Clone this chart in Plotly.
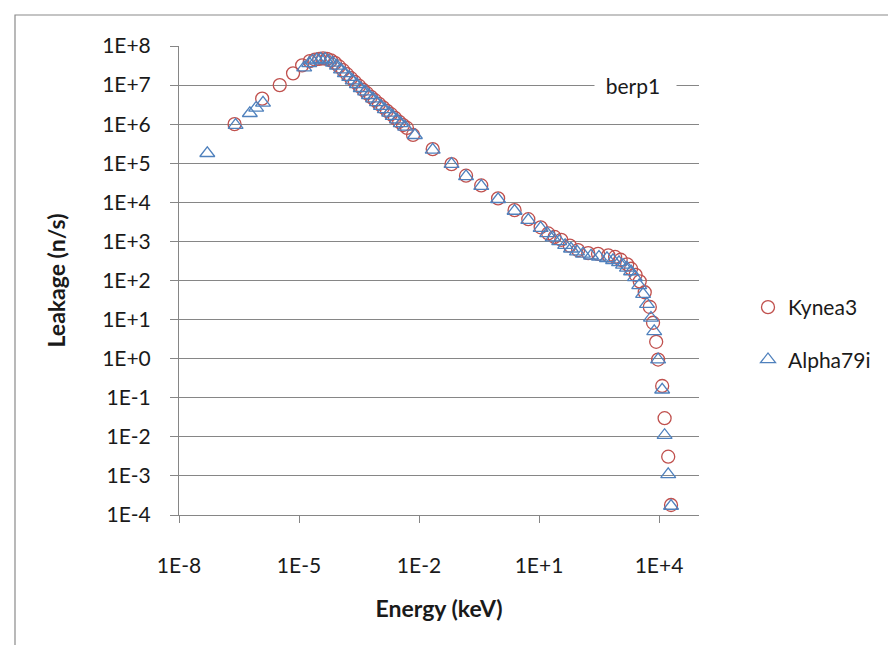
import plotly.graph_objects as go

# ---- data ----
kynea3_energy = [2.45e-7, 1.2e-6, 3.3e-6, 7.1e-6, 1.2e-5, 1.86e-5, 2.5e-5, 3.2e-5, 4.0e-5, 5.0e-5,
                 6.3e-5, 7.9e-5, 1.0e-4, 1.26e-4, 1.58e-4, 2.0e-4, 2.5e-4, 3.2e-4, 4.0e-4, 5.0e-4,
                 6.3e-4, 7.9e-4, 1.0e-3, 1.26e-3, 1.58e-3, 2.0e-3, 2.5e-3, 3.2e-3, 4.0e-3, 5.0e-3,
                 7.1e-3, 2.2e-2, 6.5e-2, 0.15, 0.36, 0.95, 2.45, 5.4, 11, 17,
                 24.5, 36, 59, 95, 170, 300, 540, 800, 1.1e3, 1.6e3,
                 2.0e3, 2.6e3, 3.3e3, 4.4e3, 5.9e3, 7.1e3, 8.5e3, 9.5e3, 1.2e4, 1.38e4,
                 1.7e4, 2.0e4]
kynea3_leak = [1.0e6, 4.5e6, 1.0e7, 2.0e7, 3.2e7, 4.1e7, 4.5e7, 4.7e7, 4.8e7, 4.7e7,
               4.3e7, 3.7e7, 3.0e7, 2.4e7, 1.9e7, 1.5e7, 1.2e7, 9.5e6, 7.6e6, 6.2e6,
               5.0e6, 4.1e6, 3.3e6, 2.7e6, 2.2e6, 1.8e6, 1.45e6, 1.15e6, 9.5e5, 8.0e5,
               5.3e5, 2.3e5, 9.5e4, 4.8e4, 2.7e4, 1.26e4, 6.3e3, 3.7e3, 2.3e3, 1.6e3,
               1.3e3, 1.1e3, 7.8e2, 6.0e2, 5.0e2, 4.8e2, 4.4e2, 4.0e2, 3.4e2, 2.6e2,
               2.0e2, 1.4e2, 9.5e1, 5.0e1, 2.1e1, 8.3, 2.7, 0.95, 0.2, 0.03,
               3.1e-3, 1.8e-4]

alpha79i_energy = [5.1e-8, 2.6e-7, 5.9e-7, 8.5e-7, 1.26e-6, 1.35e-5, 1.8e-5, 2.2e-5, 2.8e-5, 3.5e-5,
                   4.5e-5, 5.6e-5, 7.1e-5, 8.9e-5, 1.12e-4, 1.4e-4, 1.8e-4, 2.2e-4, 2.8e-4, 3.5e-4,
                   4.5e-4, 5.6e-4, 7.1e-4, 8.9e-4, 1.12e-3, 1.4e-3, 1.8e-3, 2.2e-3, 2.8e-3, 3.5e-3,
                   4.5e-3, 7.9e-3, 2.2e-2, 6.5e-2, 0.15, 0.36, 0.95, 2.45, 5.4, 11,
                   16, 22, 32, 45, 63, 89, 126, 200, 316, 500,
                   710, 1.0e3, 1.26e3, 1.58e3, 2.0e3, 2.5e3, 3.2e3, 4.0e3, 5.0e3, 6.3e3,
                   7.6e3, 9.5e3, 1.2e4, 1.38e4, 1.7e4, 2.0e4]
alpha79i_leak = [1.8e5, 9.5e5, 1.9e6, 2.6e6, 3.5e6, 2.8e7, 3.6e7, 4.2e7, 4.5e7, 4.6e7,
                 4.6e7, 4.2e7, 3.7e7, 3.1e7, 2.5e7, 2.0e7, 1.6e7, 1.3e7, 1.05e7, 8.3e6,
                 6.8e6, 5.5e6, 4.5e6, 3.6e6, 2.9e6, 2.4e6, 1.95e6, 1.6e6, 1.3e6, 1.05e6,
                 8.5e5, 5.2e5, 2.2e5, 9.5e4, 4.6e4, 2.6e4, 1.2e4, 6.0e3, 3.5e3, 2.2e3,
                 1.6e3, 1.25e3, 1.0e3, 8.0e2, 6.5e2, 5.5e2, 4.8e2, 4.3e2, 4.0e2, 3.7e2,
                 3.3e2, 2.9e2, 2.5e2, 2.1e2, 1.7e2, 1.2e2, 7.5e1, 4.5e1, 2.5e1, 1.1e1,
                 5.0, 0.95, 0.16, 0.011, 1.1e-3, 1.7e-4]

x_tick_vals = [1e-8, 1e-5, 1e-2, 1e1, 1e4]
x_tick_text = ["1E-8", "1E-5", "1E-2", "1E+1", "1E+4"]
y_tick_vals = [10.0 ** p for p in range(-4, 9)]
y_tick_text = ["1E-4", "1E-3", "1E-2", "1E-1", "1E+0", "1E+1", "1E+2", "1E+3",
               "1E+4", "1E+5", "1E+6", "1E+7", "1E+8"]

FONT = "Lato"
TXT = "#1a1a1a"
GRID = "#868686"
RED = "#C0504D"
BLUE = "#4F81BD"

fig = go.Figure()
fig.add_trace(go.Scatter(
    x=kynea3_energy, y=kynea3_leak, mode="markers", name="Kynea3", legendgroup="k",
    marker=dict(symbol="circle-open", size=13, color=RED, line=dict(width=1.3, color=RED)),
))
fig.add_trace(go.Scatter(
    x=alpha79i_energy, y=alpha79i_leak, mode="markers", name="Alpha79i", legendgroup="a",
    marker=dict(symbol="triangle-up-open", size=13, color=BLUE, line=dict(width=1.3, color=BLUE)),
))

L, R, T, B = 171, 205, 38, 138
W, H = 896, 645
pw = W - L - R
ph = H - T - B


def px_x(p):
    return (p - L) / pw


def px_y(p):
    return (H - B - p) / ph


fig.update_layout(
    width=W, height=H,
    margin=dict(l=L, r=R, t=T, b=B, pad=0),
    paper_bgcolor="white", plot_bgcolor="white",
    font=dict(family=FONT, size=21, color=TXT),
    showlegend=True,
    legend=dict(x=px_x(740), y=px_y(279), xanchor="left", yanchor="top",
                font=dict(family=FONT, size=21, color=TXT),
                tracegroupgap=22, bgcolor="rgba(0,0,0,0)"),
    xaxis=dict(type="log", range=[-8, 5], tickvals=x_tick_vals, ticktext=x_tick_text,
               ticks="outside", ticklen=7, tickcolor=GRID, tickwidth=1,
               showline=True, linecolor=GRID, linewidth=1, showgrid=False, zeroline=False,
               ticklabelstandoff=25,
               title=dict(text="<b>Energy (keV)</b>", standoff=24,
                          font=dict(family=FONT, size=23, color=TXT))),
    yaxis=dict(type="log", range=[-4, 8], tickvals=y_tick_vals, ticktext=y_tick_text,
               ticks="outside", ticklen=8, tickcolor=GRID, tickwidth=1,
               showline=True, linecolor=GRID, linewidth=1,
               showgrid=True, gridcolor=GRID, gridwidth=1, zeroline=False,
               ticklabelstandoff=15,
               title=dict(text="<b>Leakage (n/s)</b>", standoff=30,
                          font=dict(family=FONT, size=23, color=TXT))),
    annotations=[dict(xref="paper", yref="paper", x=px_x(586), y=px_y(77),
                      xanchor="left", yanchor="middle", text="&nbsp;&nbsp;berp1",
                      showarrow=False, width=81, align="left",
                      bgcolor="white", borderpad=0,
                      font=dict(family=FONT, size=21, color=TXT))],
    shapes=[
        dict(type="rect", xref="paper", yref="paper",
             x0=px_x(7), x1=px_x(891), y0=px_y(641), y1=px_y(7),
             line=dict(color="#8a8a8a", width=1.2), fillcolor="rgba(0,0,0,0)",
             layer="below"),
    ],
)

fig.write_html("out.html")
